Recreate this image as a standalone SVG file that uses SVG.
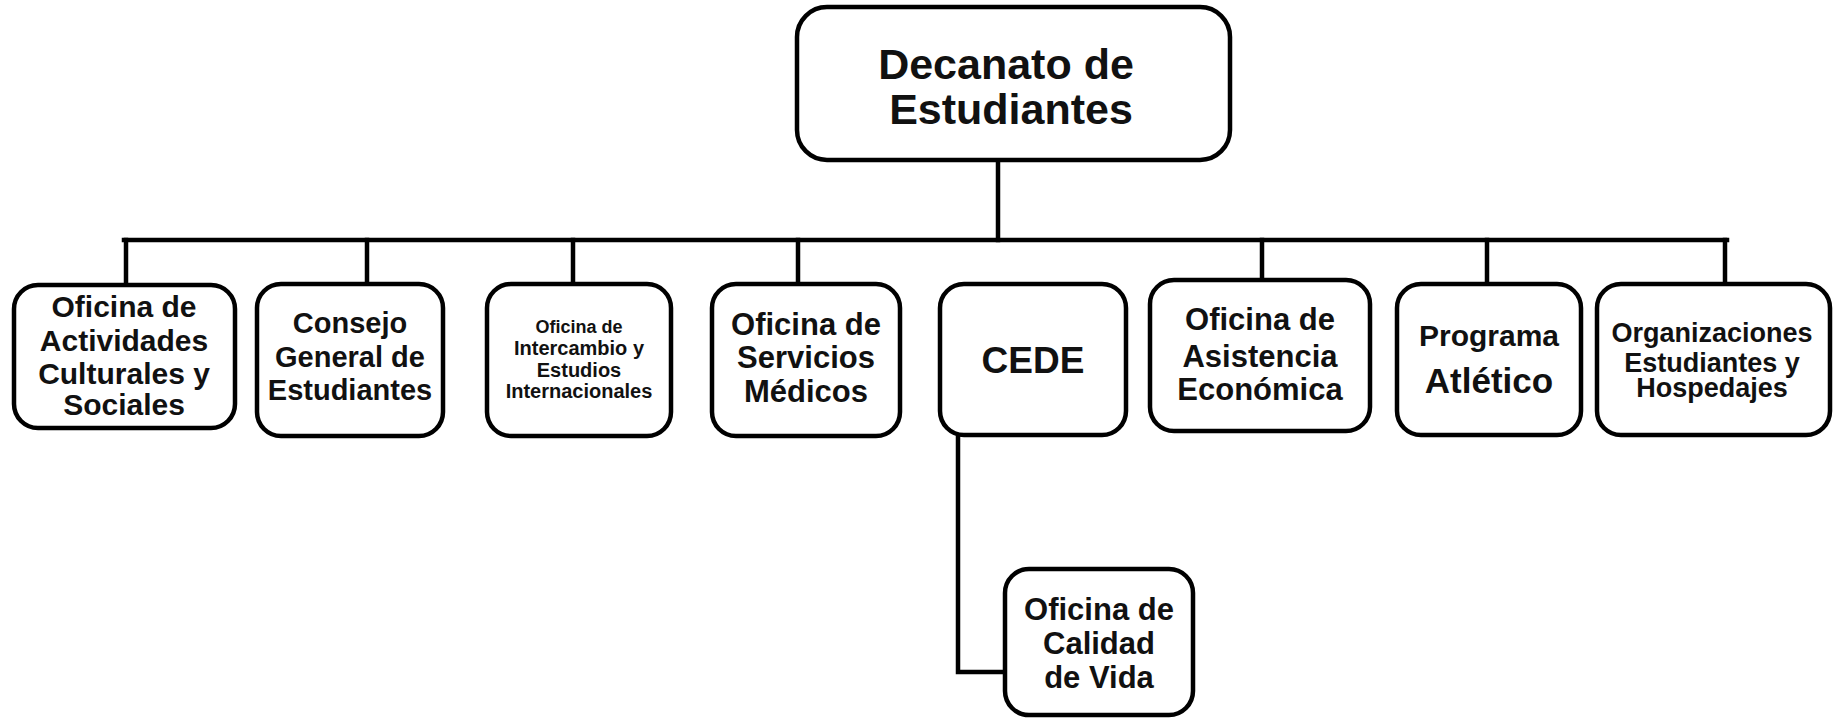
<svg xmlns="http://www.w3.org/2000/svg" width="1833" height="720" viewBox="0 0 1833 720">
<style>
.box{fill:#fff;stroke:#000;stroke-width:4.5}
.t{font-family:"Liberation Sans",Arial,sans-serif;font-weight:bold;fill:#111;text-anchor:middle}
.c{fill:none;stroke:#000;stroke-width:4.5;stroke-linecap:square}
</style>
<rect width="1833" height="720" fill="#fff"/>
<g id="connectors">
<path class="c" d="M998 160V240"/>
<path class="c" d="M124 240H1727"/>
<path class="c" d="M126 240V284"/>
<path class="c" d="M367 240V283"/>
<path class="c" d="M573 240V283"/>
<path class="c" d="M798 240V283"/>
<path class="c" d="M1262 240V279"/>
<path class="c" d="M1487 240V283"/>
<path class="c" d="M1725 240V283"/>
<path class="c" d="M958 436V672H1004"/>
</g>
<g id="decanato">
<rect class="box" x="797" y="7" width="433" height="153" rx="30"/>
<text class="t" font-size="43"><tspan x="1006" y="79">Decanato de</tspan><tspan x="1011" y="124">Estudiantes</tspan></text>
</g>
<g id="actividades">
<rect class="box" x="14" y="285" width="221" height="143" rx="24"/>
<text class="t" font-size="30"><tspan x="124" y="317">Oficina de</tspan><tspan x="124" y="351">Actividades</tspan><tspan x="124" y="384">Culturales y</tspan><tspan x="124" y="415">Sociales</tspan></text>
</g>
<g id="consejo">
<rect class="box" x="257" y="284" width="186" height="152" rx="24"/>
<text class="t" font-size="29"><tspan x="350" y="333">Consejo</tspan><tspan x="350" y="367">General de</tspan><tspan x="350" y="400">Estudiantes</tspan></text>
</g>
<g id="intercambio">
<rect class="box" x="487" y="284" width="184" height="152" rx="24"/>
<text class="t" font-size="20"><tspan x="579" y="333" font-size="18">Oficina de</tspan><tspan x="579" y="355">Intercambio y</tspan><tspan x="579" y="377">Estudios</tspan><tspan x="579" y="398">Internacionales</tspan></text>
</g>
<g id="medicos">
<rect class="box" x="712" y="284" width="188" height="152" rx="24"/>
<text class="t" font-size="31"><tspan x="806" y="335">Oficina de</tspan><tspan x="806" y="368">Servicios</tspan><tspan x="806" y="402">Médicos</tspan></text>
</g>
<g id="cede">
<rect class="box" x="940" y="284" width="186" height="151" rx="24"/>
<text class="t" font-size="37" x="1033" y="373">CEDE</text>
</g>
<g id="asistencia">
<rect class="box" x="1150" y="280" width="220" height="151" rx="24"/>
<text class="t" font-size="31"><tspan x="1260" y="330">Oficina de</tspan><tspan x="1260" y="367">Asistencia</tspan><tspan x="1260" y="400">Económica</tspan></text>
</g>
<g id="programa">
<rect class="box" x="1397" y="284" width="184" height="151" rx="24"/>
<text class="t" font-size="30" x="1489" y="346">Programa</text>
<text class="t" font-size="35" x="1489" y="393">Atlético</text>
</g>
<g id="organizaciones">
<rect class="box" x="1597" y="284" width="233" height="151" rx="24"/>
<text class="t" font-size="27"><tspan x="1712" y="342">Organizaciones</tspan><tspan x="1712" y="372">Estudiantes y</tspan><tspan x="1712" y="397">Hospedajes</tspan></text>
</g>
<g id="calidad">
<rect class="box" x="1005" y="569" width="188" height="146" rx="24"/>
<text class="t" font-size="31"><tspan x="1099" y="620">Oficina de</tspan><tspan x="1099" y="654">Calidad</tspan><tspan x="1099" y="688">de Vida</tspan></text>
</g>
</svg>
